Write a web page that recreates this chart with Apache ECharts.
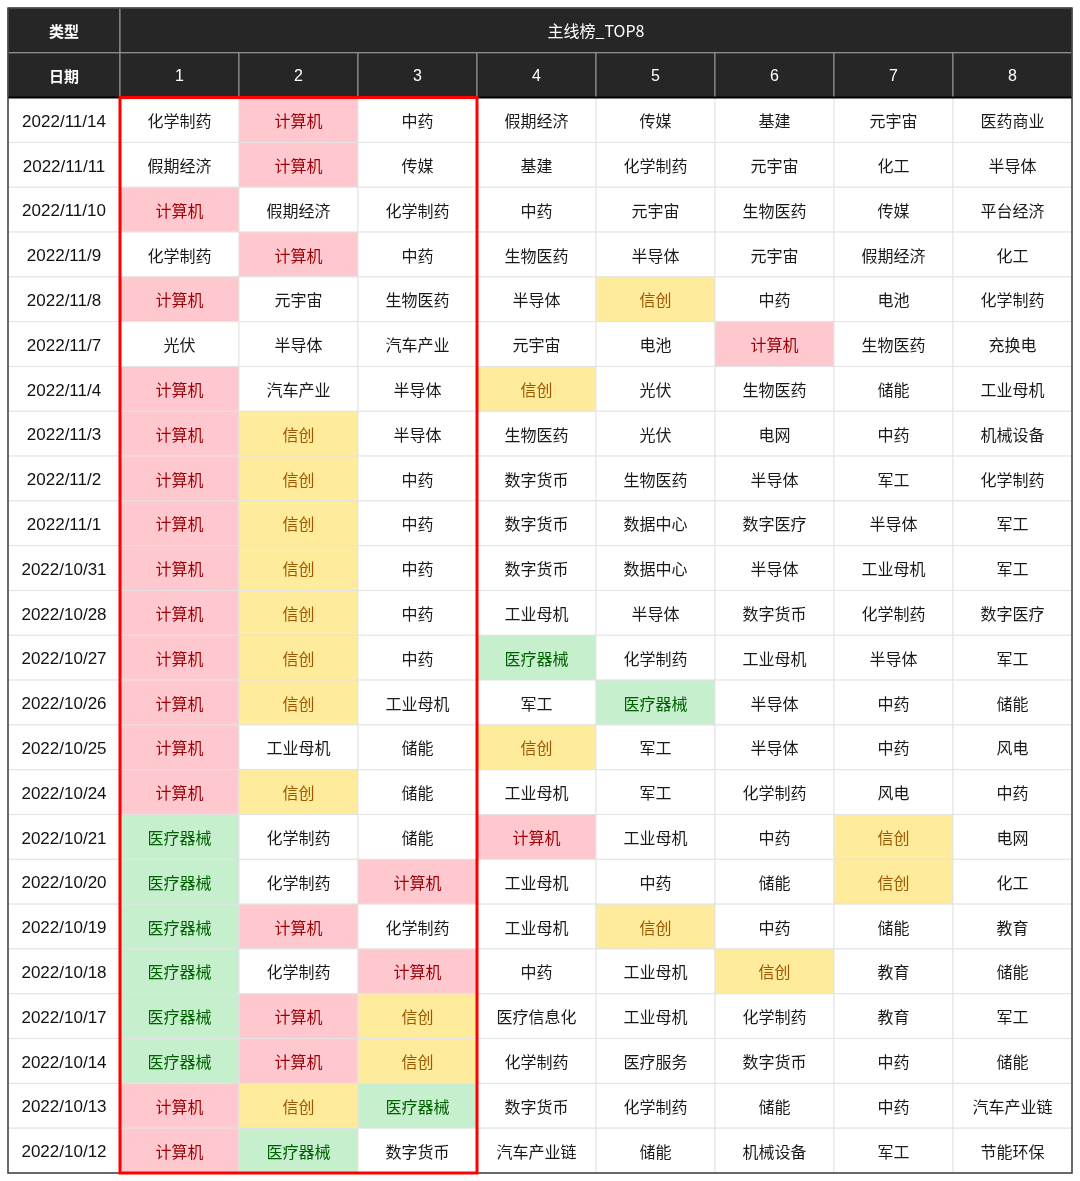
<!DOCTYPE html>
<html>
<head>
<meta charset="utf-8">
<script src="https://cdn.jsdelivr.net/npm/echarts@6/dist/echarts.min.js"></script>
<style>
  html, body { margin: 0; padding: 0; background: #fff; }
  #main { width: 1080px; height: 1181px; }
</style>
</head>
<body>
<div id="main"></div>
<script>
const headTitle = '主线榜_TOP8'
const headType = '类型'
const headDate = '日期'
const ranks = ['1', '2', '3', '4', '5', '6', '7', '8']

const dates = [
  '2022/11/14', '2022/11/11', '2022/11/10', '2022/11/9', '2022/11/8', '2022/11/7',
  '2022/11/4', '2022/11/3', '2022/11/2', '2022/11/1', '2022/10/31', '2022/10/28',
  '2022/10/27', '2022/10/26', '2022/10/25', '2022/10/24', '2022/10/21', '2022/10/20',
  '2022/10/19', '2022/10/18', '2022/10/17', '2022/10/14', '2022/10/13', '2022/10/12'
]

const topRows = [
  ['化学制药', '计算机', '中药', '假期经济', '传媒', '基建', '元宇宙', '医药商业'],
  ['假期经济', '计算机', '传媒', '基建', '化学制药', '元宇宙', '化工', '半导体'],
  ['计算机', '假期经济', '化学制药', '中药', '元宇宙', '生物医药', '传媒', '平台经济'],
  ['化学制药', '计算机', '中药', '生物医药', '半导体', '元宇宙', '假期经济', '化工'],
  ['计算机', '元宇宙', '生物医药', '半导体', '信创', '中药', '电池', '化学制药'],
  ['光伏', '半导体', '汽车产业', '元宇宙', '电池', '计算机', '生物医药', '充换电'],
  ['计算机', '汽车产业', '半导体', '信创', '光伏', '生物医药', '储能', '工业母机'],
  ['计算机', '信创', '半导体', '生物医药', '光伏', '电网', '中药', '机械设备'],
  ['计算机', '信创', '中药', '数字货币', '生物医药', '半导体', '军工', '化学制药'],
  ['计算机', '信创', '中药', '数字货币', '数据中心', '数字医疗', '半导体', '军工'],
  ['计算机', '信创', '中药', '数字货币', '数据中心', '半导体', '工业母机', '军工'],
  ['计算机', '信创', '中药', '工业母机', '半导体', '数字货币', '化学制药', '数字医疗'],
  ['计算机', '信创', '中药', '医疗器械', '化学制药', '工业母机', '半导体', '军工'],
  ['计算机', '信创', '工业母机', '军工', '医疗器械', '半导体', '中药', '储能'],
  ['计算机', '工业母机', '储能', '信创', '军工', '半导体', '中药', '风电'],
  ['计算机', '信创', '储能', '工业母机', '军工', '化学制药', '风电', '中药'],
  ['医疗器械', '化学制药', '储能', '计算机', '工业母机', '中药', '信创', '电网'],
  ['医疗器械', '化学制药', '计算机', '工业母机', '中药', '储能', '信创', '化工'],
  ['医疗器械', '计算机', '化学制药', '工业母机', '信创', '中药', '储能', '教育'],
  ['医疗器械', '化学制药', '计算机', '中药', '工业母机', '信创', '教育', '储能'],
  ['医疗器械', '计算机', '信创', '医疗信息化', '工业母机', '化学制药', '教育', '军工'],
  ['医疗器械', '计算机', '信创', '化学制药', '医疗服务', '数字货币', '中药', '储能'],
  ['计算机', '信创', '医疗器械', '数字货币', '化学制药', '储能', '中药', '汽车产业链'],
  ['计算机', '医疗器械', '数字货币', '汽车产业链', '储能', '机械设备', '军工', '节能环保']
]

// 高亮板块（Excel 条件格式配色）
const highlight = {
  '计算机': { bg: '#ffc7ce', fg: '#9c0006' },
  '信创': { bg: '#ffeb9c', fg: '#9c5700' },
  '医疗器械': { bg: '#c6efce', fg: '#006100' }
}

const rowCats = [headType, headDate].concat(dates)

const CJK = '"Noto Sans CJK SC", "Noto Sans", sans-serif'
const HEAD_BG = '#262626'
const HEAD_LINE = '#9a9a9a'
const CELL_LINE = '#e3e3e3'

// 左侧日期列
const leftItems = [
  { x: 0, y: 0, text: headType, kind: 'head' },
  { x: 0, y: 1, text: headDate, kind: 'head' }
].concat(dates.map((d, i) => ({ x: 0, y: i + 2, text: d, kind: 'date' })))

// 右侧排名列
const rightItems = [{ x: 0, y: 0, text: headTitle, kind: 'title' }]
ranks.forEach((r, j) => rightItems.push({ x: j, y: 1, text: r, kind: 'rank' }))
topRows.forEach((row, i) => {
  row.forEach((name, j) => rightItems.push({ x: j, y: i + 2, text: name, kind: 'cell' }))
})

function cellRender(items, lastCol) {
  return function (params, api) {
    const it = items[params.dataIndex]
    const p = api.coord([it.x, it.y])
    const s = api.size([1, 1])
    let x0 = p[0] - s[0] / 2
    let w = s[0]
    if (it.kind === 'title') {
      const pe = api.coord([lastCol, it.y])
      w = pe[0] + s[0] / 2 - x0
    }
    const y0 = p[1] - s[1] / 2
    const h = s[1]
    let bg = '#fff', fg = '#1a1a1a', line = CELL_LINE
    let font = '16px ' + CJK
    let dy = 1
    if (it.kind === 'head') {
      bg = HEAD_BG; fg = '#fff'; line = HEAD_LINE
      font = 'bold 15px ' + CJK
    } else if (it.kind === 'title') {
      bg = HEAD_BG; fg = '#fff'; line = HEAD_LINE
      font = '16px ' + CJK
    } else if (it.kind === 'rank') {
      bg = HEAD_BG; fg = '#fff'; line = HEAD_LINE
      font = '16px "Liberation Sans Narrow", "Liberation Sans", sans-serif'
    } else if (it.kind === 'date') {
      fg = '#111'
      font = '17px "Liberation Sans", Arial, sans-serif'
      dy = 2
    } else if (highlight[it.text]) {
      bg = highlight[it.text].bg
      fg = highlight[it.text].fg
    }
    return {
      type: 'group',
      children: [
        {
          type: 'rect',
          shape: { x: x0, y: y0, width: w, height: h },
          style: { fill: bg, stroke: line, lineWidth: 1 }
        },
        {
          type: 'text',
          style: {
            x: x0 + w / 2, y: y0 + h / 2 + dy, text: it.text,
            fill: fg, font: font, align: 'center', verticalAlign: 'middle'
          }
        }
      ]
    }
  }
}

// 外框 + 表头分隔线 + 红框
function frameRender(side) {
  return function (params, api) {
    const s = api.size([1, 1])
    const nCols = side === 'left' ? 1 : ranks.length
    const a = api.coord([0, 0])
    const b = api.coord([nCols - 1, rowCats.length - 1])
    const L = a[0] - s[0] / 2, R = b[0] + s[0] / 2
    const T = a[1] - s[1] / 2, B = b[1] + s[1] / 2
    const hb = api.coord([0, 1])[1] + s[1] / 2
    const children = [
      {
        type: 'line',
        shape: { x1: L, y1: hb, x2: R, y2: hb },
        style: { stroke: '#000', lineWidth: 2 }
      },
      {
        type: 'polyline',
        shape: side === 'left'
          ? { points: [[R, T], [L, T], [L, B], [R, B]] }
          : { points: [[L, T], [R, T], [R, B], [L, B]] },
        style: { stroke: '#3c3c3c', lineWidth: 1.5, fill: null }
      }
    ]
    if (side === 'right') {
      const rb = api.coord([2, 2])
      children.push({
        type: 'rect',
        shape: { x: L, y: hb, width: rb[0] + s[0] / 2 - L, height: B - hb },
        style: { stroke: '#ff0000', lineWidth: 3, fill: null }
      })
    }
    return { type: 'group', children: children }
  }
}

const chart = echarts.init(document.getElementById('main'), null, { renderer: 'canvas' })

const hiddenAxis = {
  show: false,
  axisLine: { show: false },
  axisTick: { show: false },
  axisLabel: { show: false },
  splitLine: { show: false }
}

chart.setOption({
  backgroundColor: '#fff',
  animation: false,
  grid: [
    { left: 8, top: 8, width: 112, height: 1165 },
    { left: 120, top: 8, width: 952, height: 1165 }
  ],
  xAxis: [
    Object.assign({ type: 'category', data: [headDate], gridIndex: 0 }, hiddenAxis),
    Object.assign({ type: 'category', data: ranks, gridIndex: 1 }, hiddenAxis)
  ],
  yAxis: [
    Object.assign({ type: 'category', data: rowCats, inverse: true, gridIndex: 0 }, hiddenAxis),
    Object.assign({ type: 'category', data: rowCats, inverse: true, gridIndex: 1 }, hiddenAxis)
  ],
  series: [
    {
      type: 'custom',
      xAxisIndex: 0, yAxisIndex: 0,
      renderItem: cellRender(leftItems, 0),
      data: leftItems.map(it => [it.x, it.y]),
      silent: true
    },
    {
      type: 'custom',
      xAxisIndex: 1, yAxisIndex: 1,
      renderItem: cellRender(rightItems, ranks.length - 1),
      data: rightItems.map(it => [it.x, it.y]),
      silent: true
    },
    {
      type: 'custom',
      xAxisIndex: 0, yAxisIndex: 0, z: 5,
      renderItem: frameRender('left'),
      data: [[0, 0]],
      silent: true
    },
    {
      type: 'custom',
      xAxisIndex: 1, yAxisIndex: 1, z: 5,
      renderItem: frameRender('right'),
      data: [[0, 0]],
      silent: true
    }
  ]
})

window.addEventListener('resize', () => {
  chart.resize()
})
</script>
</body>
</html>
